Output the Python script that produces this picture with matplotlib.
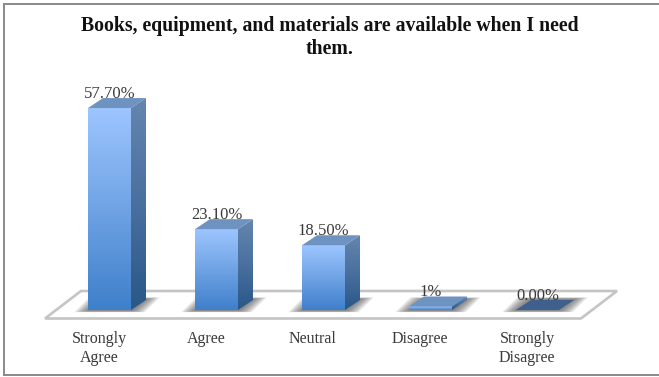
import numpy as np
import matplotlib
matplotlib.use("Agg")
import matplotlib.pyplot as plt
from matplotlib.lines import Line2D
from matplotlib.patches import Polygon
from matplotlib.colors import LinearSegmentedColormap

categories = ["Strongly\nAgree", "Agree", "Neutral", "Disagree", "Strongly\nDisagree"]
values = [57.7, 23.1, 18.5, 1.0, 0.0]
value_labels = ["57.70%", "23.10%", "18.50%", "1%", "0.00%"]
title = "Books, equipment, and materials are available when I need\nthem."

W, H = 659, 377
PX_X, PX_Y = 107.0, 3.5          # pixels per data unit
X0, Y0 = 109.5, 310.0            # pixel position of category 0 / value 0
BAR_W = 43 / PX_X
DX, DY = 15 / PX_X, 10 / PX_Y    # 3-D depth of a bar
TXT = "#3A3A3A"
FONT = "Liberation Serif"

fig = plt.figure(figsize=(W / 100, H / 100), dpi=100, facecolor="white")
ax = fig.add_axes([0, 0, 1, 1])
ax.axis("off")
xlim = (-X0 / PX_X, (W - X0) / PX_X)
ylim = ((Y0 - H) / PX_Y, Y0 / PX_Y)

front_cm = LinearSegmentedColormap.from_list("f", ["#3F80CB", "#6FA3E4", "#9DC5FF"])
side_cm = LinearSegmentedColormap.from_list("s", ["#285788", "#4A709F", "#6485AE"])
grad = np.linspace(0, 1, 128).reshape(-1, 1)

# floor
floor_y0, floor_y1 = -8.5 / PX_Y, 19 / PX_Y
floor_dx = 36 / PX_X
floor_l, floor_r = (45 - X0) / PX_X, (581 - X0) / PX_X
ax.add_patch(Polygon([(floor_l, floor_y0), (floor_r, floor_y0),
                      (floor_r + floor_dx, floor_y1), (floor_l + floor_dx, floor_y1)],
                     closed=True, fc="white", ec="#C4C4C4", lw=1.9, zorder=1))

# soft shadows on the floor
for i in range(len(values)):
    xl, xr = i - BAR_W / 2, i + BAR_W / 2
    n = 14
    for k in range(n):
        g = (n - k) * 1.0 / PX_X
        gy = (n - k) * 0.055
        ax.add_patch(Polygon([(xl - g, -0.3 - gy * 0.4), (xr + g, -0.3 - gy * 0.4),
                              (xr + DX + g, DY + 0.3 + gy * 0.6),
                              (xl + DX - g, DY + 0.3 + gy * 0.6)],
                             closed=True, fc="#555555", ec="none", alpha=0.075, zorder=2))

# bars
for i, v in enumerate(values):
    xl, xr = i - BAR_W / 2, i + BAR_W / 2
    if v > 0:
        # side face
        im = ax.imshow(grad, extent=(xr, xr + DX, 0, v + DY), origin="lower", aspect="auto",
                       cmap=side_cm, zorder=3)
        clip = Polygon([(xr, 0), (xr + DX, DY), (xr + DX, v + DY), (xr, v)], closed=True,
                       transform=ax.transData, fc="none", ec="none")
        ax.add_patch(clip)
        im.set_clip_path(clip)
        # front face
        ax.imshow(grad, extent=(xl, xr, 0, v), origin="lower", aspect="auto",
                  cmap=front_cm, zorder=4)
    top = "#6F93C0" if v > 0 else "#3F5F8C"
    ax.add_patch(Polygon([(xl, v), (xr, v), (xr + DX, v + DY), (xl + DX, v + DY)],
                         closed=True, fc=top, ec="none", zorder=4))
    # value label
    ax.text(i, v + 14.5 / PX_Y, value_labels[i], ha="center", va="center",
            fontsize=12, family=FONT, color=TXT, zorder=6)
    # category label, set a little to the left of its bar
    ax.text(i - 10.5 / PX_X, -21 / PX_Y, categories[i], ha="center", va="top",
            fontsize=11.5, family=FONT, color=TXT, linespacing=1.25, zorder=6)

ax.set_xlim(xlim)
ax.set_ylim(ylim)

# outer frame (left, top, bottom only) and title
frame = dict(color="#8A8A8A", lw=1.4, transform=ax.transAxes, zorder=7)
ax.add_line(Line2D([3.5 / W, 3.5 / W], [1 - 3.5 / H, 1 - 375 / H], **frame))
ax.add_line(Line2D([3.5 / W, 1], [1 - 3.5 / H, 1 - 3.5 / H], **frame))
ax.add_line(Line2D([3.5 / W, 1], [1 - 375 / H, 1 - 375 / H], **frame))
ax.text(330 / W, 1 - 37 / H, title, transform=ax.transAxes, ha="center", va="center",
        fontsize=14.2, fontweight="bold", family=FONT, color="#111111", linespacing=1.2, zorder=6)

fig.savefig("out.png", dpi=100, facecolor="white")
